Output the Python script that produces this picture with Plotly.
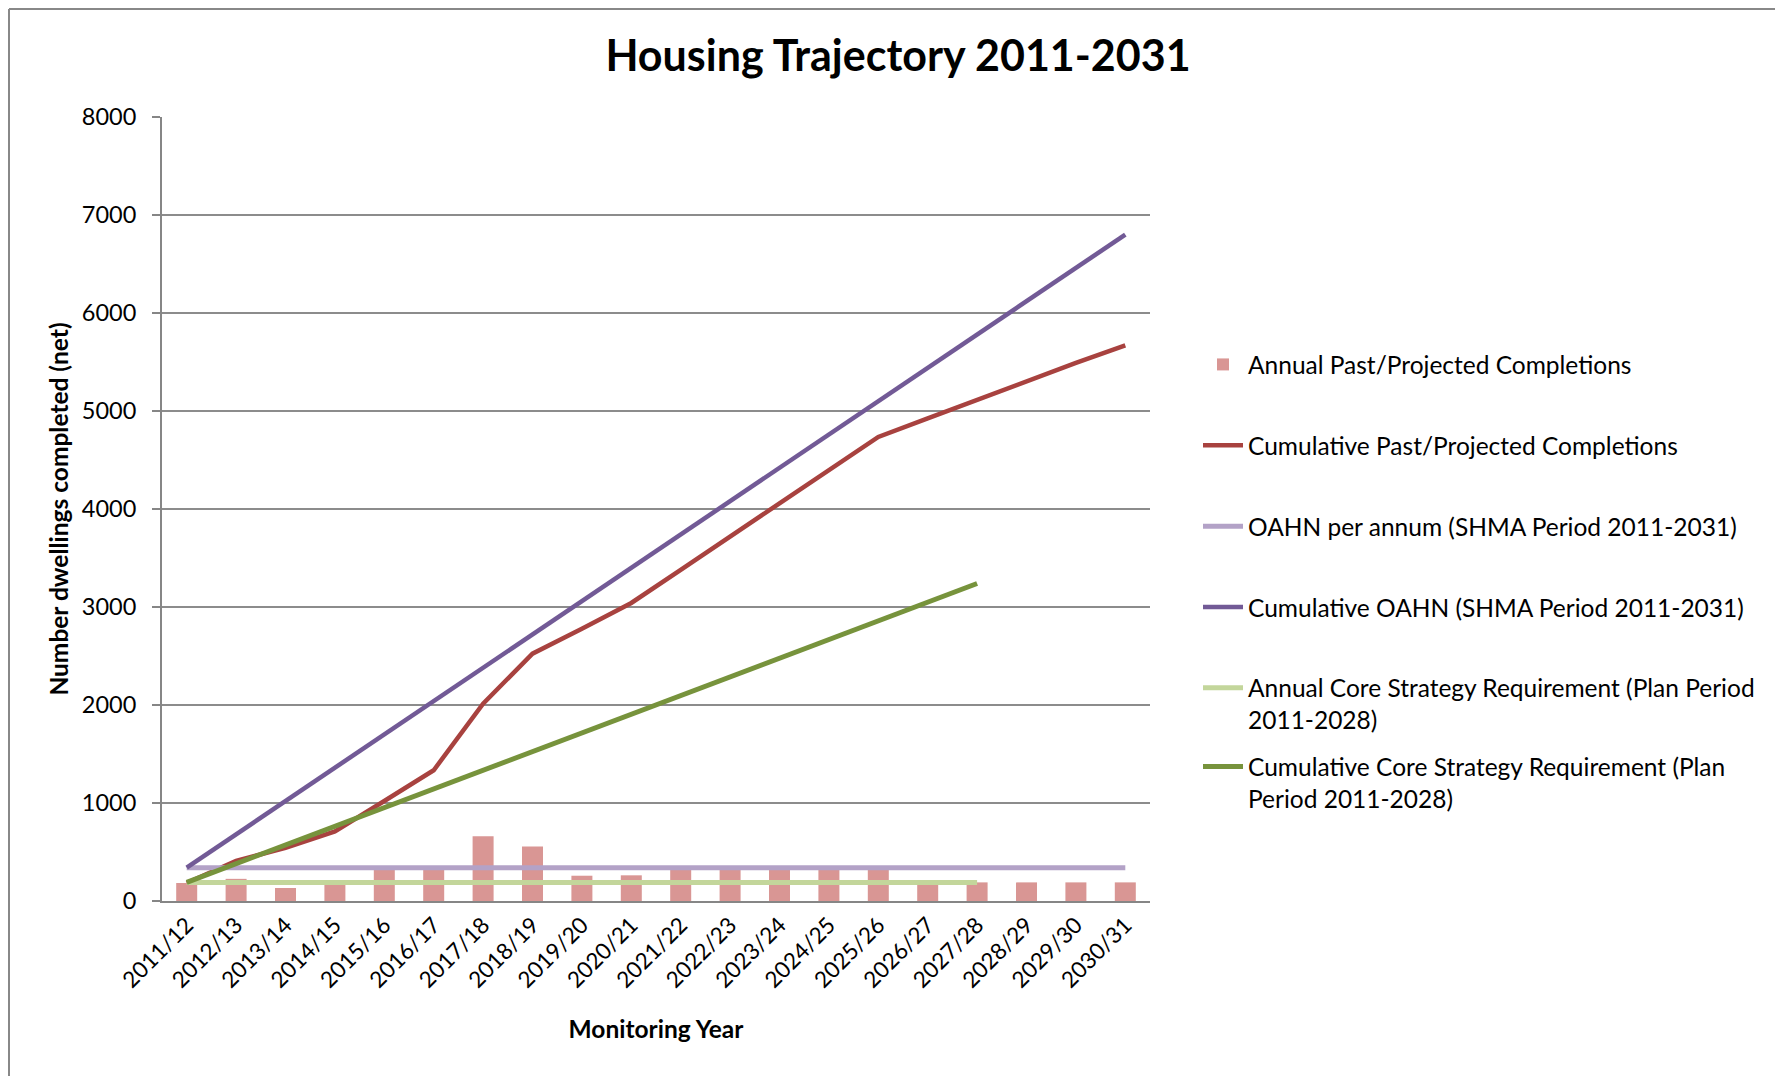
import plotly.graph_objects as go

# ---------------- data ----------------
years = ["2011/12", "2012/13", "2013/14", "2014/15", "2015/16", "2016/17", "2017/18",
         "2018/19", "2019/20", "2020/21", "2021/22", "2022/23", "2023/24", "2024/25",
         "2025/26", "2026/27", "2027/28", "2028/29", "2029/30", "2030/31"]

annual_completions = [184, 226, 133, 170, 320, 320, 660, 555, 258, 262,
                      340, 340, 340, 340, 340, 190, 190, 190, 190, 190]

cumulative_completions = [184, 410, 543, 710, 1020, 1334, 2014, 2524, 2779, 3041,
                          3380, 3720, 4060, 4400, 4735, 4925, 5115, 5300, 5490, 5670]

oahn_per_annum = [340, 340, 340, 340, 340, 340, 340, 340, 340, 340,
                  340, 340, 340, 340, 340, 340, 340, 340, 340, 340]

cumulative_oahn = [340, 680, 1020, 1360, 1700, 2040, 2380, 2720, 3060, 3400,
                   3740, 4080, 4420, 4760, 5100, 5440, 5780, 6120, 6460, 6800]

core_years = years[:17]
core_annual = [190, 190, 190, 190, 190, 190, 190, 190, 190, 190,
               190, 190, 190, 190, 190, 190, 190]
core_cumulative = [190, 381, 572, 762, 953, 1144, 1334, 1525, 1715, 1906,
                   2096, 2287, 2478, 2668, 2859, 3049, 3240]

y_ticks = [0, 1000, 2000, 3000, 4000, 5000, 6000, 7000, 8000]

names = ["Annual Past/Projected Completions",
         "Cumulative Past/Projected Completions",
         "OAHN per annum (SHMA Period 2011-2031)",
         "Cumulative OAHN (SHMA Period 2011-2031)",
         "Annual Core Strategy Requirement (Plan Period<br>2011-2028)",
         "Cumulative Core Strategy Requirement (Plan<br>Period 2011-2028)"]

# ---------------- figure ----------------
FONT = "Lato, 'Open Sans', sans-serif"
OFF = 8                      # default page body margin
W, H = 1783 - OFF, 1076 - OFF
ML, MR, MT, MB = 154, 633, 109, 175
PW, PH = W - ML - MR, H - MT - MB


def px_to_paper_x(px):       # px given in screenshot coordinates
    return (px - OFF - ML) / PW


def px_to_paper_y(py):
    return (H - MB - (py - OFF)) / PH


fig = go.Figure()
fig.add_trace(go.Bar(x=years, y=annual_completions, name=names[0],
                     marker=dict(color="#D99694", line=dict(width=0)),
                     legendgroup="g1"))
fig.add_trace(go.Scatter(x=years, y=cumulative_completions, name=names[1], mode="lines",
                         line=dict(color="#A8423F", width=4.5), legendgroup="g2"))
fig.add_trace(go.Scatter(x=years, y=oahn_per_annum, name=names[2], mode="lines",
                         line=dict(color="#B3A2C7", width=5), legendgroup="g3"))
fig.add_trace(go.Scatter(x=years, y=cumulative_oahn, name=names[3], mode="lines",
                         line=dict(color="#725A96", width=4.5), legendgroup="g4"))
fig.add_trace(go.Scatter(x=core_years, y=core_annual, name=names[4], mode="lines",
                         line=dict(color="#C3D69B", width=5), legendgroup="g5"))
fig.add_trace(go.Scatter(x=core_years, y=core_cumulative, name=names[5], mode="lines",
                         line=dict(color="#77933C", width=5), legendgroup="g6",
                         legend="legend2"))

legend_common = dict(font=dict(family=FONT, size=24.5, color="black"),
                     bgcolor="rgba(0,0,0,0)", valign="top",
                     xanchor="left", yanchor="top", itemwidth=40,
                     traceorder="grouped")

fig.update_layout(
    width=W, height=H,
    margin=dict(l=ML, r=MR, t=MT, b=MB, pad=0),
    paper_bgcolor="white", plot_bgcolor="white",
    font=dict(family=FONT, color="black"),
    title=dict(text="<b>Housing Trajectory 2011-2031</b>",
               font=dict(family=FONT, size=43, color="black"),
               x=(898 - OFF) / W, xref="container", xanchor="center",
               y=1 - (56 - OFF) / H, yref="container", yanchor="middle"),
    bargap=0.575,
    showlegend=True,
    legend=dict(x=px_to_paper_x(1198), y=px_to_paper_y(342),
                tracegroupgap=46, **legend_common),
    legend2=dict(x=px_to_paper_x(1198), y=px_to_paper_y(744),
                 tracegroupgap=0, **legend_common),
    xaxis=dict(type="category", showgrid=False, showline=True,
               linecolor="#868686", linewidth=2, ticks="",
               tickangle=-45, tickfont=dict(family=FONT, size=22.5, color="black"),
               title=dict(text="<b>Monitoring Year</b>",
                          font=dict(family=FONT, size=24.5, color="black"),
                          standoff=29)),
    yaxis=dict(range=[0, 8000], tickvals=y_ticks, showgrid=True,
               gridcolor="#8C8C8C", gridwidth=1.5, showline=True,
               linecolor="#868686", linewidth=2, ticks="outside", ticklen=8,
               tickcolor="#868686", tickwidth=1.5, zeroline=False,
               ticklabelstandoff=11,
               tickfont=dict(family=FONT, size=23.5, color="black"),
               title=dict(text="<b>Number dwellings completed (net)</b>",
                          font=dict(family=FONT, size=24.5, color="black"),
                          standoff=6)),
    shapes=[
        dict(type="line", xref="paper", yref="paper",
             x0=px_to_paper_x(9), x1=px_to_paper_x(9),
             y0=px_to_paper_y(1076), y1=px_to_paper_y(9),
             line=dict(color="#888888", width=2)),
        dict(type="line", xref="paper", yref="paper",
             x0=px_to_paper_x(9), x1=px_to_paper_x(1783),
             y0=px_to_paper_y(9), y1=px_to_paper_y(9),
             line=dict(color="#888888", width=2)),
    ],
)

fig.write_html("out.html")
